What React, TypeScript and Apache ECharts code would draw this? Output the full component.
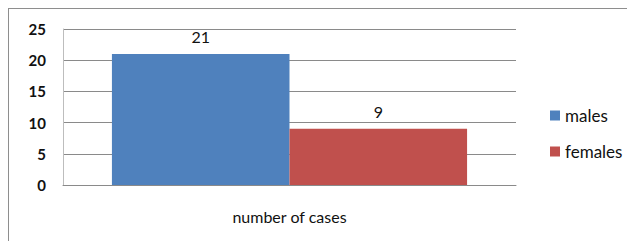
import React, { useEffect, useRef } from "react";
import * as echarts from "echarts";

const categories = ["number of cases"];
const seriesNames = ["males", "females"];
const malesValues = [21];
const femalesValues = [9];
const seriesColors = ["#4F81BD", "#C0504D"];
const yTicks = { min: 0, max: 25, interval: 5 };

export default function App() {
  const ref = useRef<HTMLDivElement>(null);
  useEffect(() => {
    if (!ref.current) return;
    const chart = echarts.init(ref.current, undefined, { renderer: "svg" });
    const font = "Lato, 'Open Sans', sans-serif";
    const labelStyle = {
      show: true,
      position: "top" as const,
      distance: 9,
      color: "#111111",
      fontFamily: font,
      fontSize: 16,
    };
    chart.setOption({
      animation: false,
      backgroundColor: "#ffffff",
      grid: { left: 54, top: 20, right: 119, bottom: 56, containLabel: false },
      legend: {
        orient: "vertical",
        left: 536,
        top: 93,
        itemWidth: 10,
        itemHeight: 10,
        itemGap: 19,
        icon: "rect",
        data: seriesNames,
        textStyle: { fontFamily: font, fontSize: 17, color: "#111111", lineHeight: 16 },
      },
      xAxis: {
        type: "category",
        data: categories,
        axisLine: { show: true, lineStyle: { color: "#8a8a8a", width: 1 } },
        axisTick: { show: false },
        axisLabel: { margin: 23, fontFamily: font, fontSize: 16, color: "#111111" },
      },
      yAxis: {
        type: "value",
        min: yTicks.min,
        max: yTicks.max,
        interval: yTicks.interval,
        axisLine: { show: true, lineStyle: { color: "#bdbdbd", width: 1 } },
        axisTick: { show: false },
        splitLine: { show: true, lineStyle: { color: "#8a8a8a", width: 1 } },
        axisLabel: {
          margin: 17,
          fontFamily: font,
          fontSize: 15,
          fontWeight: "bold",
          color: "#111111",
        },
      },
      series: [
        {
          name: seriesNames[0],
          type: "bar",
          data: malesValues,
          itemStyle: { color: seriesColors[0] },
          barGap: "0%",
          barCategoryGap: "21.6%",
          label: labelStyle,
        },
        {
          name: seriesNames[1],
          type: "bar",
          data: femalesValues,
          itemStyle: { color: seriesColors[1] },
          barGap: "0%",
          barCategoryGap: "21.6%",
          label: labelStyle,
        },
      ],
    });
    return () => chart.dispose();
  }, []);
  return (
    <div
      style={{
        width: 627,
        height: 233,
        borderLeft: "1px solid #8e8e8e",
        borderTop: "1px solid #8e8e8e",
        boxSizing: "border-box",
        background: "#fff",
      }}
    >
      <div ref={ref} style={{ width: 626, height: 232 }} />
    </div>
  );
}
